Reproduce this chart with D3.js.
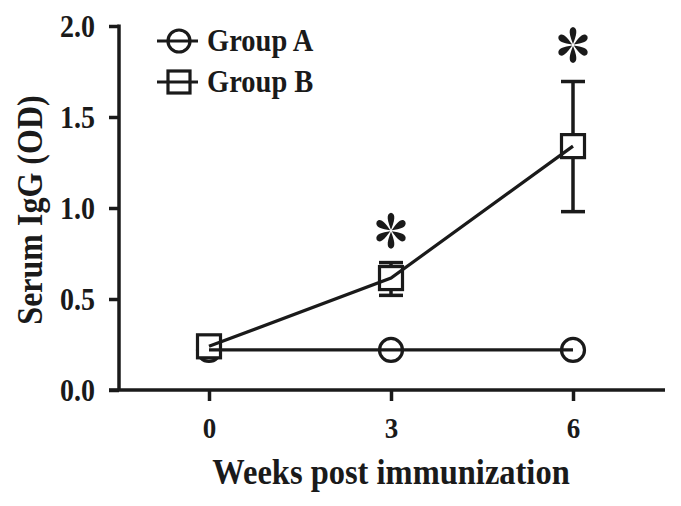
<!DOCTYPE html>
<html>
<head>
<meta charset="utf-8">
<script src="https://cdn.jsdelivr.net/npm/d3@7"></script>
<style>
  body { margin: 0; background: #fff; }
  svg { display: block; }
  text { font-family: "Liberation Serif", "Times New Roman", serif; font-weight: bold; fill: #1a1a1a; }
</style>
</head>
<body>
<div id="draw"></div>
<script>
var weeks = [0, 3, 6];
var groupA = [0.22, 0.22, 0.22];
var groupB = [0.24, 0.615, 1.34];
var groupBErrLow = [0.22, 0.52, 0.98];
var groupBErrHigh = [0.26, 0.70, 1.695];
// asterisk marks (significance), y position in data units
var asteriskAt = [null, 0.875, 1.895];
var yTicks = [0.0, 0.5, 1.0, 1.5, 2.0];
var xTicks = [0, 3, 6];
var seriesNames = ['Group A', 'Group B'];

var W = 681, H = 506;
var ink = '#1a1a1a';

var svg = d3.select('#draw').append('svg')
    .attr('width', W).attr('height', H);

var x = d3.scaleLinear().domain([0, 6]).range([209, 573]);
var y = d3.scaleLinear().domain([0, 2]).range([390, 26]);
var xLeft = 119, xRight = 665;

// axes
var yAxis = d3.axisLeft(y).tickValues(yTicks).tickFormat(d3.format('.1f'))
    .tickSize(10).tickPadding(14);
var gy = svg.append('g').attr('transform', 'translate(' + xLeft + ',0)').call(yAxis);
gy.select('.domain').remove();
gy.append('line').attr('x1', 0).attr('x2', 0).attr('y1', y(2) - 1.5).attr('y2', y(0))
    .attr('stroke', ink).attr('stroke-width', 3.5);
gy.selectAll('.tick line').attr('stroke', ink).attr('stroke-width', 3.5);
gy.selectAll('.tick text').attr('font-size', 28).attr('fill', ink)
    .attr('dy', '0.34em').attr('transform', 'scale(1,1.1)');

var xAxis = d3.axisBottom(x).tickValues(xTicks).tickFormat(d3.format('d'))
    .tickSize(11).tickPadding(15);
var gx = svg.append('g').attr('transform', 'translate(0,' + y(0) + ')').call(xAxis);
gx.select('.domain').remove();
gx.append('line').attr('x1', xLeft - 10).attr('x2', xRight).attr('y1', 0).attr('y2', 0)
    .attr('stroke', ink).attr('stroke-width', 3.5);
gx.selectAll('.tick line').attr('stroke', ink).attr('stroke-width', 3.5);
gx.selectAll('.tick text').attr('font-size', 27).attr('fill', ink)
    .attr('transform', 'scale(1,1.06)');

// axis titles
svg.append('text').attr('transform', 'translate(391,484) scale(1,1.08)')
    .attr('text-anchor', 'middle').attr('font-size', 32.5).text('Weeks post immunization');
svg.append('text').attr('transform', 'translate(42,210) rotate(-90) scale(1,1.12)')
    .attr('text-anchor', 'middle').attr('font-size', 32).text('Serum IgG (OD)');

var line = d3.line().x(function(d){ return x(d[0]); }).y(function(d){ return y(d[1]); });

// error bars for group B
var eb = svg.append('g').attr('stroke', ink).attr('stroke-width', 3.5);
weeks.forEach(function(w, i){
  eb.append('line').attr('x1', x(w)).attr('x2', x(w))
    .attr('y1', y(groupBErrLow[i])).attr('y2', y(groupBErrHigh[i]));
  [groupBErrLow[i], groupBErrHigh[i]].forEach(function(v){
    eb.append('line').attr('x1', x(w) - 12).attr('x2', x(w) + 12)
      .attr('y1', y(v)).attr('y2', y(v));
  });
});

// markers
svg.selectAll('circle.a').data(weeks).enter().append('circle')
  .attr('class', 'a')
  .attr('cx', function(d){ return x(d); })
  .attr('cy', function(d, i){ return y(groupA[i]); })
  .attr('r', 11.5).attr('fill', '#fff').attr('stroke', ink).attr('stroke-width', 3.2);

svg.selectAll('rect.b').data(weeks).enter().append('rect')
  .attr('class', 'b')
  .attr('x', function(d){ return x(d) - 11.5; })
  .attr('y', function(d, i){ return y(groupB[i]) - 11.5; })
  .attr('width', 23).attr('height', 23)
  .attr('fill', '#fff').attr('stroke', ink).attr('stroke-width', 3.2);

// lines on top
svg.append('path').datum(d3.zip(weeks, groupA)).attr('d', line)
  .attr('fill', 'none').attr('stroke', ink).attr('stroke-width', 3.2);
svg.append('path').datum(d3.zip(weeks, groupB)).attr('d', line)
  .attr('fill', 'none').attr('stroke', ink).attr('stroke-width', 3.2);

// asterisks: six teardrop petals
function asterisk(cx, cy, r){
  var g = svg.append('g').attr('transform', 'translate(' + cx + ',' + cy + ') scale(0.92,1)');
  for (var k = 0; k < 6; k++) {
    g.append('path')
      .attr('d', 'M0,-1 C-3.5,-' + (r*0.5) + ' -6,-' + (r*0.95) + ' 0,-' + r +
                 ' C6,-' + (r*0.95) + ' 3.5,-' + (r*0.5) + ' 0,-1 Z')
      .attr('transform', 'rotate(' + (k * 60) + ')')
      .attr('fill', ink);
  }
}
weeks.forEach(function(w, i){
  if (asteriskAt[i] !== null) asterisk(x(w), y(asteriskAt[i]), 18);
});

// legend
var leg = svg.append('g');
seriesNames.forEach(function(name, i){
  var ly = 41 + i * 41;
  leg.append('line').attr('x1', 157).attr('x2', 198).attr('y1', ly).attr('y2', ly)
    .attr('stroke', ink).attr('stroke-width', 3.2);
  if (i === 0) {
    leg.append('circle').attr('cx', 179).attr('cy', ly).attr('r', 11)
      .attr('fill', 'none').attr('stroke', ink).attr('stroke-width', 3.2);
  } else {
    leg.append('rect').attr('x', 168).attr('y', ly - 11).attr('width', 22).attr('height', 22)
      .attr('fill', 'none').attr('stroke', ink).attr('stroke-width', 3.2);
  }
  leg.append('text').attr('transform', 'translate(207,' + (ly + 10) + ') scale(1,1.12)')
    .attr('font-size', 28.5).text(name);
});
</script>
</body>
</html>
